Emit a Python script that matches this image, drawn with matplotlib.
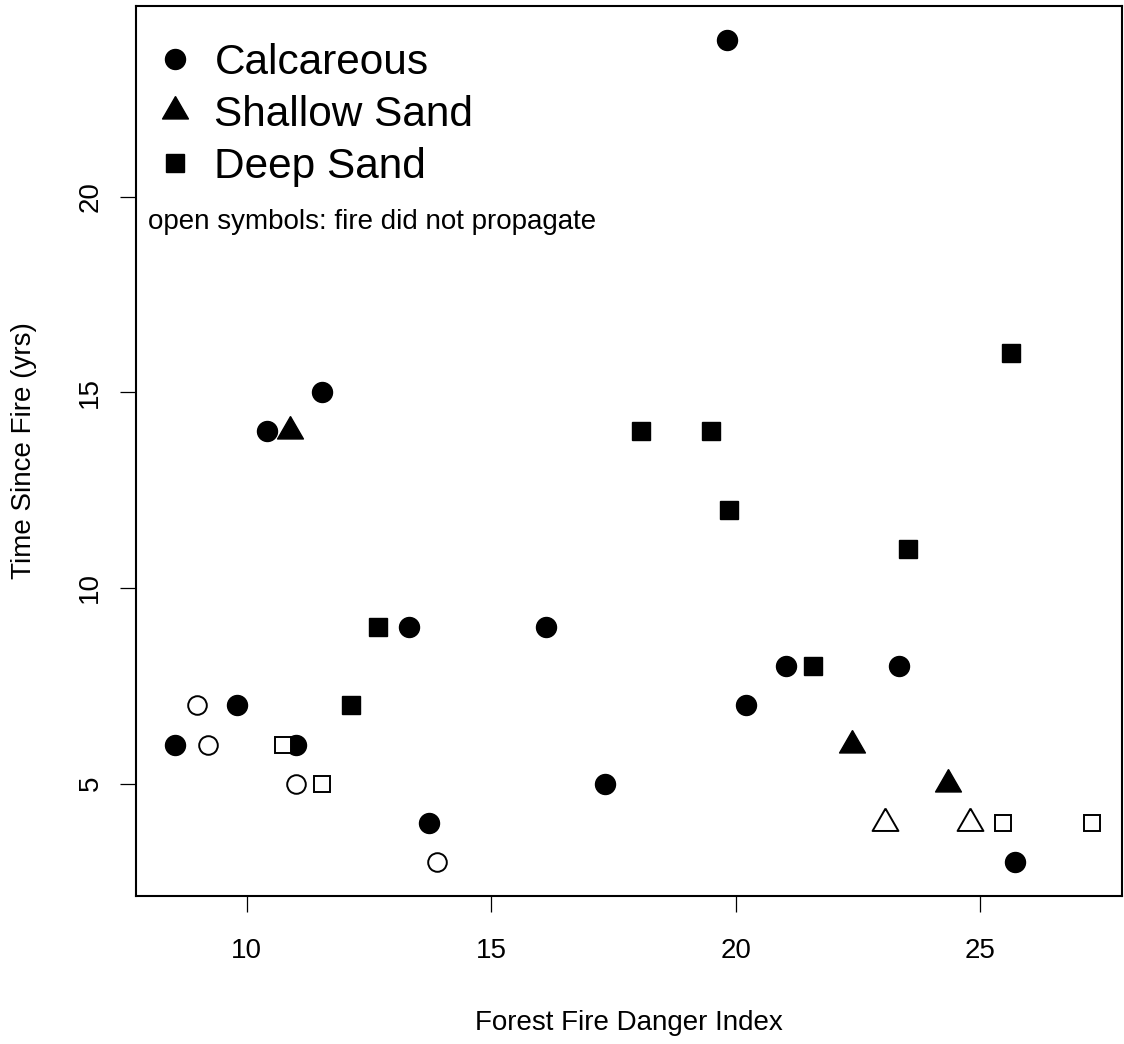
import matplotlib
matplotlib.use("Agg")
import matplotlib.pyplot as plt
from matplotlib.lines import Line2D

plt.rcParams['font.family'] = ['Liberation Sans', 'DejaVu Sans']

# Forest Fire Danger Index (x) vs Time Since Fire (y), by soil type
# filled = fire propagated, open = fire did not propagate
calc_x = [8.54, 9.80, 10.42, 11.01, 11.54, 13.32, 13.73, 16.12, 17.33, 19.82, 20.21, 21.03, 23.34, 25.71]
calc_y = [6, 7, 14, 6, 15, 9, 4, 9, 5, 24, 7, 8, 8, 3]
calc_open_x = [8.99, 9.21, 11.01, 13.89]
calc_open_y = [7, 6, 5, 3]

shallow_x = [10.89, 22.38, 24.34]
shallow_y = [14, 6, 5]
shallow_open_x = [23.05, 24.79]
shallow_open_y = [4, 4]

deep_x = [12.13, 12.69, 18.06, 19.49, 19.86, 21.58, 23.52, 25.64]
deep_y = [7, 9, 14, 14, 12, 8, 11, 16]
deep_open_x = [10.74, 11.54, 25.46, 27.29]
deep_open_y = [6, 5, 4, 4]

legend_labels = ['Calcareous', 'Shallow Sand', 'Deep Sand']
x_ticks = [10, 15, 20, 25]
y_ticks = [5, 10, 15, 20]

# R style triangle (circumcentre at the data point)
tri = [(0, 1), (-0.866, -0.5), (0.866, -0.5), (0, 1)]

fig = plt.figure(figsize=(11.24, 10.44), dpi=100)
ax = fig.add_axes([136 / 1124, 1 - 896 / 1044, 986 / 1124, 890 / 1044])

ms_c, ms_s, ms_t = 14.4, 13, 21.5
mew = 1.4
ax.plot(calc_x, calc_y, 'o', ms=ms_c, color='black', ls='none')
ax.plot(calc_open_x, calc_open_y, 'o', ms=ms_c - 1, mfc='white', mec='black', mew=mew, ls='none')
ax.plot(shallow_x, shallow_y, marker=tri, ms=ms_t, color='black', ls='none')
ax.plot(shallow_open_x, shallow_open_y, marker=tri, ms=ms_t, mfc='white', mec='black', mew=mew, ls='none')
ax.plot(deep_x, deep_y, 's', ms=ms_s, color='black', ls='none')
ax.plot(deep_open_x, deep_open_y, 's', ms=ms_s - 1, mfc='white', mec='black', mew=mew, ls='none')

ax.set_xlim(7.74, 27.9)
ax.set_ylim(2.13, 24.87)
ax.set_xticks(x_ticks)
ax.set_yticks(y_ticks)
ax.tick_params(axis='both', length=11.5, width=0.9, labelsize=20, direction='out')
ax.tick_params(axis='x', pad=19)
ax.tick_params(axis='y', pad=12)
for lab in ax.get_yticklabels():
    lab.set_rotation(90)
    lab.set_va('center')
for sp in ax.spines.values():
    sp.set_linewidth(1.5)

ax.set_xlabel('Forest Fire Danger Index', fontsize=20, va='center')
ax.xaxis.set_label_coords(0.5, -0.1427)
ax.set_ylabel('Time Since Fire (yrs)', fontsize=20, va='center')
ax.yaxis.set_label_coords(-0.114, 0.5)

handles = [
    Line2D([], [], marker='o', ms=ms_c, color='black', ls='none'),
    Line2D([], [], marker=tri, ms=ms_t, color='black', ls='none'),
    Line2D([], [], marker='s', ms=ms_s, color='black', ls='none'),
]
ax.legend(handles, legend_labels, loc='upper left', bbox_to_anchor=(0.009, 0.968),
          frameon=False, fontsize=30.5, handlelength=1.0, handletextpad=0.443,
          labelspacing=0.285, borderaxespad=0, borderpad=0.2)

ax.text(0.012, 0.757, 'open symbols: fire did not propagate', transform=ax.transAxes,
        fontsize=20, va='center', ha='left')

fig.savefig('out.png', dpi=100)
